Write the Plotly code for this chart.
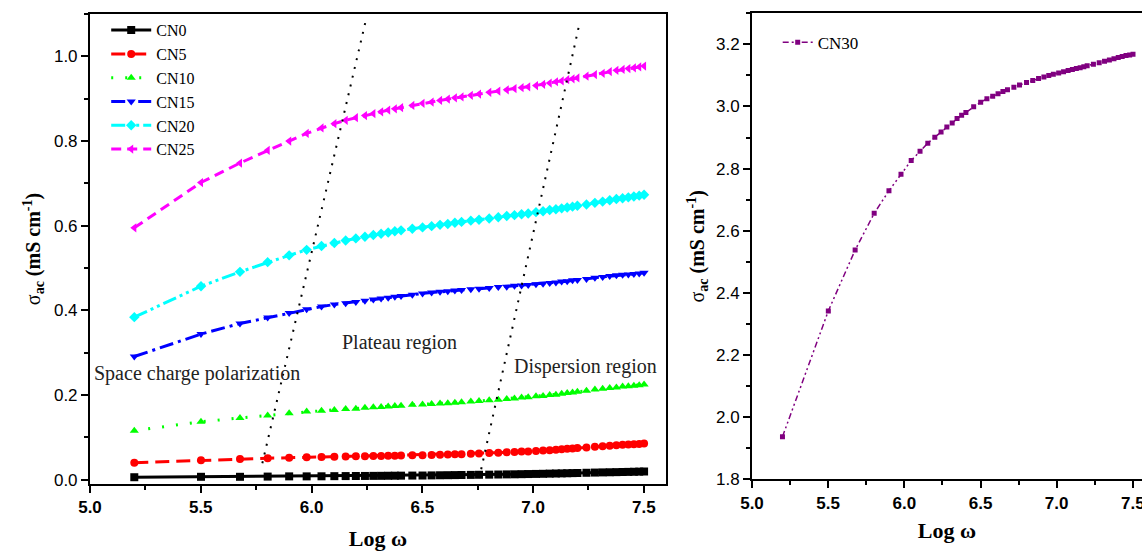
import plotly.graph_objects as go

# ---------------- data ----------------
log_w = [5.200, 5.501, 5.677, 5.802, 5.899, 5.978, 6.045, 6.103, 6.154, 6.200,
         6.241, 6.279, 6.314, 6.346, 6.376, 6.404, 6.455, 6.501, 6.542, 6.580,
         6.615, 6.647, 6.677, 6.719, 6.756, 6.802, 6.843, 6.881, 6.916, 6.948,
         6.978, 7.013, 7.045, 7.075, 7.103, 7.129, 7.154, 7.178, 7.200, 7.241,
         7.279, 7.314, 7.346, 7.376, 7.404, 7.430, 7.455, 7.479, 7.501]

cn0 = [0.0060, 0.0070, 0.0070, 0.0075, 0.0080, 0.0080, 0.0082, 0.0085, 0.0087, 0.0089,
       0.0090, 0.0092, 0.0093, 0.0095, 0.0096, 0.0097, 0.0099, 0.0100, 0.0103, 0.0106,
       0.0108, 0.0110, 0.0112, 0.0115, 0.0118, 0.0121, 0.0124, 0.0127, 0.0129, 0.0132,
       0.0135, 0.0138, 0.0141, 0.0145, 0.0148, 0.0151, 0.0154, 0.0157, 0.0160, 0.0165,
       0.0170, 0.0174, 0.0177, 0.0180, 0.0183, 0.0186, 0.0189, 0.0192, 0.0195]

cn5 = [0.040, 0.046, 0.049, 0.051, 0.052, 0.053, 0.054, 0.0545, 0.055, 0.0553,
       0.0556, 0.056, 0.0563, 0.0566, 0.057, 0.0573, 0.0577, 0.058, 0.0585, 0.059,
       0.0595, 0.060, 0.0605, 0.0612, 0.062, 0.063, 0.064, 0.065, 0.0658, 0.0665,
       0.067, 0.068, 0.069, 0.070, 0.071, 0.072, 0.073, 0.074, 0.075, 0.0765,
       0.078, 0.0793, 0.0805, 0.0815, 0.0825, 0.0833, 0.084, 0.0847, 0.0855]

cn10 = [0.116, 0.137, 0.146, 0.152, 0.157, 0.161, 0.163, 0.165, 0.167, 0.168,
        0.170, 0.171, 0.172, 0.173, 0.174, 0.175, 0.177, 0.178, 0.179, 0.180,
        0.181, 0.182, 0.183, 0.185, 0.186, 0.188, 0.189, 0.191, 0.192, 0.194,
        0.195, 0.197, 0.198, 0.200, 0.201, 0.203, 0.205, 0.206, 0.208, 0.210,
        0.213, 0.215, 0.217, 0.218, 0.220, 0.221, 0.222, 0.223, 0.225]

cn15 = [0.291, 0.344, 0.369, 0.383, 0.394, 0.403, 0.409, 0.414, 0.417, 0.420,
        0.423, 0.426, 0.428, 0.430, 0.432, 0.434, 0.437, 0.440, 0.442, 0.444,
        0.445, 0.447, 0.448, 0.450, 0.451, 0.453, 0.455, 0.456, 0.458, 0.459,
        0.460, 0.462, 0.463, 0.465, 0.466, 0.468, 0.469, 0.471, 0.472, 0.474,
        0.477, 0.479, 0.481, 0.483, 0.484, 0.485, 0.486, 0.487, 0.489]

cn20 = [0.384, 0.457, 0.491, 0.514, 0.530, 0.543, 0.552, 0.559, 0.565, 0.570,
        0.574, 0.578, 0.581, 0.584, 0.587, 0.589, 0.593, 0.596, 0.599, 0.602,
        0.604, 0.607, 0.609, 0.612, 0.614, 0.617, 0.620, 0.623, 0.625, 0.627,
        0.629, 0.632, 0.634, 0.637, 0.639, 0.641, 0.643, 0.645, 0.647, 0.650,
        0.654, 0.657, 0.660, 0.663, 0.665, 0.667, 0.669, 0.671, 0.673]

cn25 = [0.595, 0.702, 0.748, 0.778, 0.800, 0.818, 0.831, 0.841, 0.849, 0.855,
        0.860, 0.865, 0.869, 0.873, 0.876, 0.879, 0.884, 0.889, 0.892, 0.896,
        0.899, 0.902, 0.904, 0.908, 0.911, 0.915, 0.918, 0.921, 0.924, 0.926,
        0.928, 0.931, 0.934, 0.937, 0.940, 0.942, 0.945, 0.947, 0.949, 0.953,
        0.957, 0.960, 0.964, 0.967, 0.969, 0.971, 0.973, 0.975, 0.977]

cn30 = [1.937, 2.342, 2.538, 2.656, 2.729, 2.782, 2.826, 2.856, 2.882, 2.901,
        2.918, 2.934, 2.947, 2.961, 2.972, 2.981, 2.999, 3.014, 3.025, 3.033,
        3.041, 3.048, 3.054, 3.062, 3.069, 3.077, 3.084, 3.090, 3.095, 3.100,
        3.104, 3.108, 3.112, 3.116, 3.119, 3.122, 3.125, 3.128, 3.131, 3.136,
        3.141, 3.146, 3.150, 3.154, 3.158, 3.161, 3.164, 3.166, 3.168]

series_names = ["CN0", "CN5", "CN10", "CN15", "CN20", "CN25"]
series_values = [cn0, cn5, cn10, cn15, cn20, cn25]

# region boundary guide lines (log w, sigma)
boundary1_x = [5.778, 6.245]
boundary1_y = [0.039, 1.085]
boundary2_x = [6.757, 7.210]
boundary2_y = [0.004, 1.079]

region_labels = ["Space charge polarization", "Plateau region", "Dispersion region"]
region_x = [5.485, 6.397, 7.238]
region_y = [0.250, 0.324, 0.268]

# ---------------- styles ----------------
colors = ["#000000", "#FF0000", "#00FF00", "#0000FF", "#00FFFF", "#FF00FF"]
symbols = ["square", "circle", "triangle-up", "triangle-down", "diamond", "triangle-left"]
dashes = ["solid", "14px,7px", "2px,12px", "14px,5px,3px,5px",
          "14px,4px,3px,4px,3px,4px", "10px,6px"]

SERIF = "Liberation Serif"
SANS = "Liberation Sans"

fig = go.Figure()

for name, vals, c, s, d in zip(series_names, series_values, colors, symbols, dashes):
    fig.add_trace(go.Scatter(
        x=log_w, y=vals, name=name, mode="lines+markers",
        line=dict(color=c, width=3, dash=d),
        marker=dict(symbol=s, size=8, color=c, line=dict(width=0)),
        xaxis="x", yaxis="y", legend="legend"))

for bx, by in [(boundary1_x, boundary1_y), (boundary2_x, boundary2_y)]:
    fig.add_trace(go.Scatter(
        x=bx, y=by, mode="lines", showlegend=False, hoverinfo="skip",
        line=dict(color="black", width=2, dash="2px,7px"),
        xaxis="x", yaxis="y"))

fig.add_trace(go.Scatter(
    x=log_w, y=cn30, name="CN30", mode="lines+markers",
    line=dict(color="#800080", width=1.5, dash="6px,3px,2px,3px,2px,3px"),
    marker=dict(symbol="square", size=5, color="#800080"),
    xaxis="x2", yaxis="y2", legend="legend2"))

for t, xx, yy in zip(region_labels, region_x, region_y):
    fig.add_annotation(x=xx, y=yy, xref="x", yref="y", text=t, showarrow=False,
                       font=dict(family=SERIF, size=20, color="#222222"),
                       bgcolor="rgba(255,255,255,0)")

ytitle = "σ<sub><b>ac</b></sub><b> (mS cm<sup>-1</sup>)</b>"

axis_common = dict(showline=True, linecolor="black", linewidth=2, mirror=True,
                   ticks="outside", ticklen=7, tickwidth=1.5, tickcolor="black",
                   showgrid=False, zeroline=False, automargin=False,
                   ticklabeloverflow="allow")

fig.update_layout(
    width=1142, height=551,
    margin=dict(l=0, r=0, t=0, b=0),
    paper_bgcolor="white", plot_bgcolor="white",
    font=dict(family=SERIF, color="black"),
    showlegend=True,
    xaxis=dict(domain=[0.0788, 0.5832], range=[5.0, 7.6], anchor="y",
               tickvals=[5.0, 5.5, 6.0, 6.5, 7.0, 7.5], tickformat=".1f",
               tickfont=dict(family=SANS, size=17, color="black", weight="bold"),
               minor=dict(ticks="outside", ticklen=4, tickwidth=1.5, tickcolor="black",
                          dtick=0.25, tick0=5.0, showgrid=False),
               title=dict(text="<b>Log ω</b>", font=dict(family=SERIF, size=22, color="black"),
                          standoff=16),
               **axis_common),
    yaxis=dict(domain=[0.1216, 0.9746], range=[-0.01, 1.1], anchor="x",
               tickvals=[0.0, 0.2, 0.4, 0.6, 0.8, 1.0], tickformat=".1f",
               tickfont=dict(family=SANS, size=17, color="black"),
               minor=dict(ticks="outside", ticklen=4, tickwidth=1.5, tickcolor="black",
                          dtick=0.1, tick0=0.0, showgrid=False),
               title=dict(text=ytitle, font=dict(family=SERIF, size=20, color="black"),
                          standoff=8),
               **axis_common),
    xaxis2=dict(domain=[0.6585, 1.0], range=[5.0, 7.56], anchor="y2",
                tickvals=[5.0, 5.5, 6.0, 6.5, 7.0, 7.5], tickformat=".1f",
                tickfont=dict(family=SANS, size=17, color="black", weight="bold"),
                minor=dict(ticks="outside", ticklen=4, tickwidth=1.5, tickcolor="black",
                           dtick=0.25, tick0=5.0, showgrid=False),
                title=dict(text="<b>Log ω</b>", font=dict(family=SERIF, size=22, color="black"),
                           standoff=11),
                **axis_common),
    yaxis2=dict(domain=[0.1301, 0.9759], range=[1.8, 3.3], anchor="x2",
                tickvals=[1.8, 2.0, 2.2, 2.4, 2.6, 2.8, 3.0, 3.2], tickformat=".1f",
                tickfont=dict(family=SANS, size=17, color="black"),
                minor=dict(ticks="outside", ticklen=4, tickwidth=1.5, tickcolor="black",
                           dtick=0.1, tick0=1.8, showgrid=False),
                title=dict(text=ytitle, font=dict(family=SERIF, size=20, color="black"),
                           standoff=6),
                **axis_common),
    legend=dict(x=0.093, y=0.976, xanchor="left", yanchor="top",
                bgcolor="rgba(255,255,255,0)", borderwidth=0,
                font=dict(family=SERIF, size=16, color="black"),
                itemwidth=40, tracegroupgap=0),
    legend2=dict(x=0.681, y=0.955, xanchor="left", yanchor="top",
                 bgcolor="rgba(255,255,255,0)", borderwidth=0,
                 font=dict(family=SERIF, size=17, color="black")),
)

fig.write_html("out.html")
